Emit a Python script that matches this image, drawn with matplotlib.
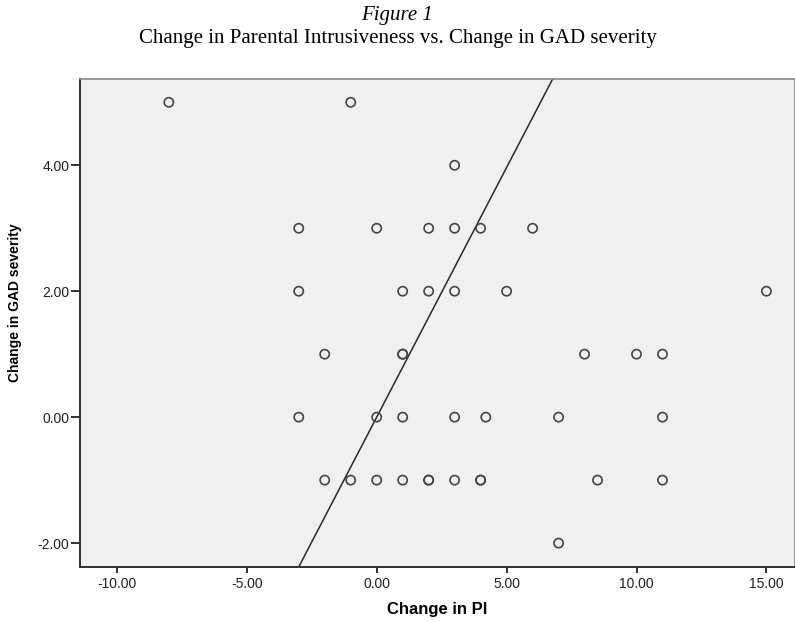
import matplotlib.pyplot as plt

# change scores per participant (PI = parental intrusiveness)
pi_change = [-8, -1,
             3,
             -3, 0, 2, 3, 4, 6,
             -3, 1, 2, 3, 5, 15,
             -2, 1, 1, 8, 10, 11,
             -3, 0, 1, 3, 4.2, 7, 11,
             -2, -1, 0, 1, 2, 2, 3, 4, 4, 8.5, 11,
             7]
gad_change = [5, 5,
              4,
              3, 3, 3, 3, 3, 3,
              2, 2, 2, 2, 2, 2,
              1, 1, 1, 1, 1, 1,
              0, 0, 0, 0, 0, 0, 0,
              -1, -1, -1, -1, -1, -1, -1, -1, -1, -1, -1,
              -2]

# fit line shown on the chart
fit_slope = 0.793
fit_intercept = 0.0

x_ticks = [-10, -5, 0, 5, 10, 15]
y_ticks = [-2, 0, 2, 4]

fig = plt.figure(figsize=(7.95, 6.22), dpi=100)
ax = fig.add_axes([0.1006, 0.0884, 0.8994, 0.7846])
ax.set_facecolor('#f0f0f0')

xlim = (-11.42, 16.1)
ylim = (-2.38, 5.37)

ax.scatter(pi_change, gad_change, s=44, facecolors='none',
           edgecolors='#454545', linewidths=1.2, zorder=3)

xs = [xlim[0], xlim[1]]
ys = [fit_intercept + fit_slope * v for v in xs]
ax.plot(xs, ys, color='#2a2a2a', linewidth=1.1, zorder=2)

ax.set_xlim(*xlim)
ax.set_ylim(*ylim)
ax.set_xticks(x_ticks)
ax.set_yticks(y_ticks)
ax.set_xticklabels(['%.2f' % v for v in x_ticks])
ax.set_yticklabels(['%.2f' % v for v in y_ticks])

for side in ['top', 'right']:
    ax.spines[side].set_color('#8a8a8a')
    ax.spines[side].set_linewidth(1.2)
for side in ['left', 'bottom']:
    ax.spines[side].set_color('#303030')
    ax.spines[side].set_linewidth(1.4)

ax.tick_params(direction='out', width=1.4, color='#303030',
               labelsize=10, labelcolor='#202020')
ax.tick_params(axis='x', length=4.5, pad=3)
ax.tick_params(axis='y', length=6.5, pad=1)
for lab in ax.get_xticklabels() + ax.get_yticklabels():
    lab.set_family('Liberation Sans')

ax.set_xlabel('Change in PI', family='Liberation Sans', fontsize=12,
              fontweight='bold')
ax.set_ylabel('Change in GAD severity', family='Liberation Sans', fontsize=10,
              fontweight='bold')
# label positions in pixels, converted to figure fractions
ax.xaxis.set_label_coords(437 / 795, 1 - 602 / 622, transform=fig.transFigure)
ax.yaxis.set_label_coords(22 / 795, 1 - 303 / 622, transform=fig.transFigure)

fig.text(0.5, 0.975, 'Figure 1', family='Liberation Serif', style='italic',
         fontsize=15, ha='center', va='center')
fig.text(0.5, 0.938, 'Change in Parental Intrusiveness vs. Change in GAD severity',
         family='Liberation Serif', fontsize=15, ha='center', va='center')

fig.savefig('out.png', dpi=100)
